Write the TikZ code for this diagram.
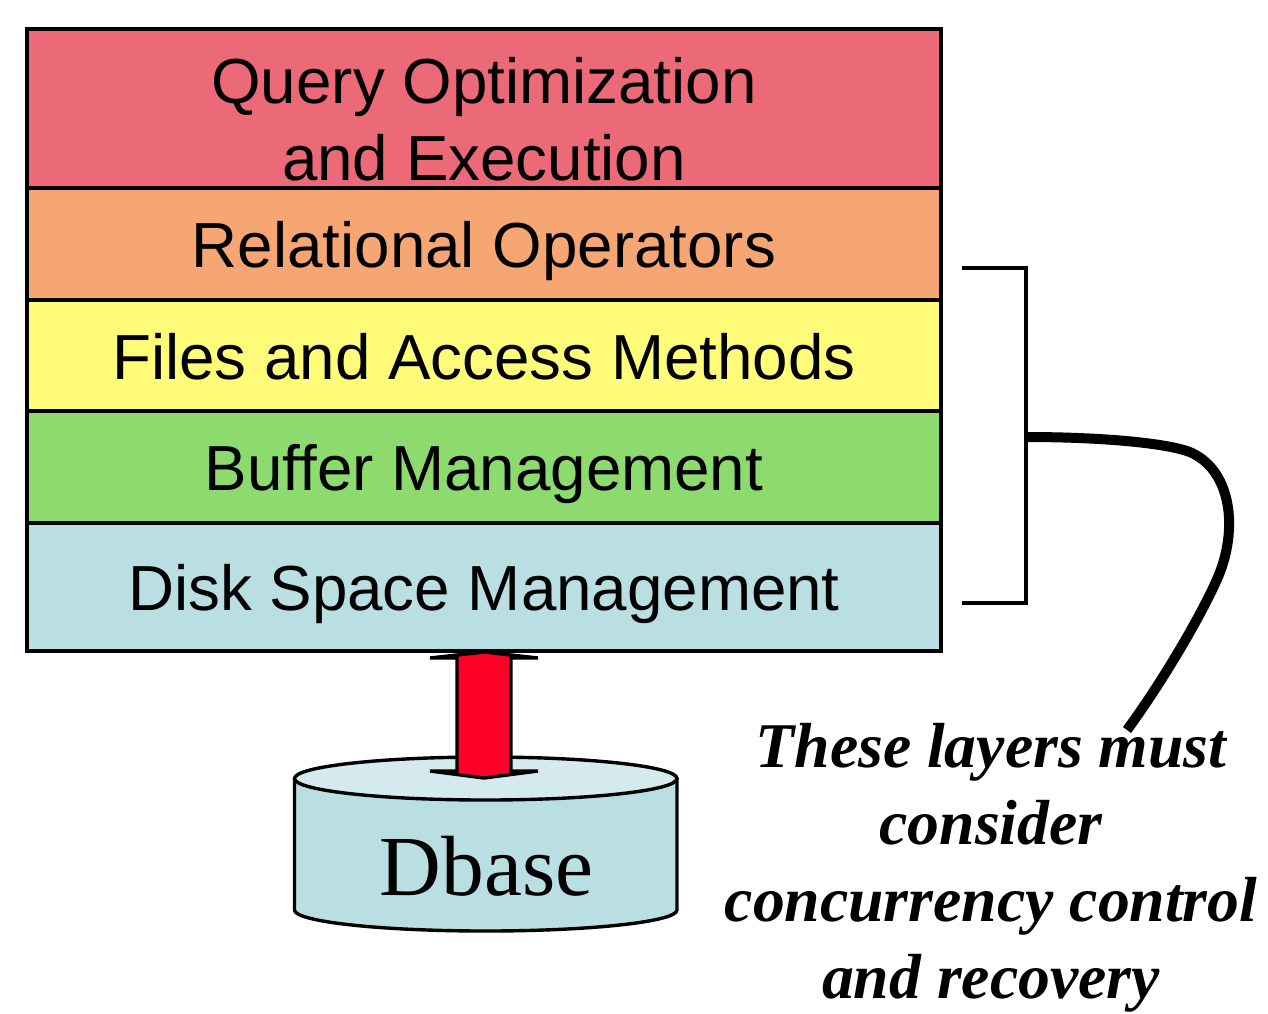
\documentclass[tikz,border=0pt]{standalone}
\usepackage{fontspec}
\setmainfont{Liberation Serif}
\setsansfont{Liberation Sans}
\usepackage{tikz}
\usetikzlibrary{arrows.meta, calc, positioning}
\definecolor{layerRed}{HTML}{EC6A78}
\definecolor{layerOrange}{HTML}{F6A672}
\definecolor{layerYellow}{HTML}{FFFC7A}
\definecolor{layerGreen}{HTML}{8DDA6E}
\definecolor{layerBlue}{HTML}{B9DFE3}
\definecolor{diskTop}{HTML}{D5EAEE}
\definecolor{arrowRed}{HTML}{FF0029}
\tikzset{
	layer/.style={draw=black, line width=3.4pt, outer sep=0pt, minimum width=914pt, inner sep=0pt, align=center, text height=47pt, text depth=0pt, font=\fontsize{63.7}{77}\selectfont\sffamily},
	bracketline/.style={draw=black, line width=3.2pt},
	note/.style={align=center, font=\fontsize{63.7}{77}\selectfont\itshape\bfseries},
}
\begin{document}
\begin{tikzpicture}[x=1pt, y=-1pt]
\useasboundingbox (0,0) rectangle (1268,1013);

% Layer stack
\node[layer, fill=layerRed, minimum height=159pt, text height=143pt, text depth=0pt, anchor=north west] (query) at (27,29) {Query Optimization\\and Execution};
\node[layer, fill=layerOrange, minimum height=112pt, below=0pt of query] (relational) {Relational Operators};
\node[layer, fill=layerYellow, minimum height=111pt, below=0pt of relational] (files) {Files and Access Methods};
\node[layer, fill=layerGreen, minimum height=112pt, below=0pt of files] (buffer) {Buffer Management};
\node[layer, fill=layerBlue, minimum height=128pt, text height=46pt, below=0pt of buffer] (disk) {Disk Space Management};

% Database cylinder
\draw[line width=3.4pt, fill=layerBlue, line join=round] (294.5,778.5) -- (294.5,910) arc (180:360:191.25pt and 21pt) -- (677,778.5) -- cycle;
\draw[line width=3.4pt, fill=diskTop] (485.75,778.5) ellipse (191.25pt and 21.5pt);
\node[font=\fontsize{85.5}{96}\selectfont] (dbase) at (486.5,866) {Dbase};

% Double arrow
\coordinate (arrowTop) at (484,652);
\coordinate (arrowBottom) at (484,778);
\draw[line width=3.4pt, fill=arrowRed] (arrowTop) -- (538,658) -- (511,658) -- (511,771) -- (538,771) -- (arrowBottom) -- (430,771) -- (457,771) -- (457,658) -- (430,658) -- cycle;

% Bracket and curve
\coordinate (bracketTop) at (962,268);
\coordinate (bracketBottom) at (962,603);
\coordinate (bracketMid) at (1027,437);
\coordinate (curveEnd) at (1127,730);
\draw[bracketline] (bracketTop) -- (1026,268) -- (1026,603) -- (bracketBottom);
\draw[line width=10pt] (bracketMid) .. controls (1100,437) and (1170,443) .. (1192,453) .. controls (1232,472) and (1238,530) .. (1218,577) .. controls (1203,612) and (1165,678) .. (curveEnd);

% Note
\node[note] (noteText) at (991,868) {These layers must\\consider\\concurrency control\\and recovery};
\end{tikzpicture}
\end{document}
